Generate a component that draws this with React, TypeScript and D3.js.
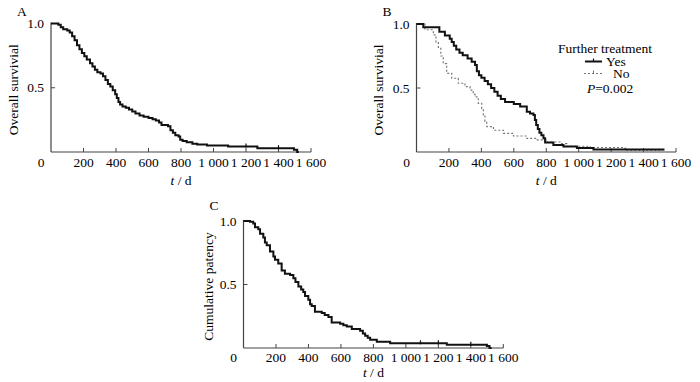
import React from "react";
import * as d3 from "d3";

// ---- data ----
const xTicks = [0, 200, 400, 600, 800, 1000, 1200, 1400, 1600];
const xTickLabels = ["0", "200", "400", "600", "800", "1 000", "1 200", "1 400", "1 600"];
const yTicks = [0.5, 1.0];
const yTickLabels = ["0.5", "1.0"];

// Panel A: overall survival
const survA: [number, number][] = [
  [0, 1.0], [45, 0.99], [60, 0.97], [75, 0.955], [100, 0.945], [115, 0.93], [130, 0.9],
  [145, 0.87], [160, 0.83], [175, 0.8], [190, 0.77], [205, 0.745], [220, 0.72], [240, 0.69],
  [255, 0.665], [270, 0.64], [285, 0.62], [305, 0.61], [320, 0.59], [335, 0.56], [350, 0.53],
  [365, 0.51], [380, 0.48], [395, 0.45], [405, 0.42], [415, 0.39], [425, 0.37], [440, 0.355],
  [460, 0.345], [480, 0.33], [500, 0.315], [520, 0.3], [545, 0.285], [570, 0.275], [600, 0.265],
  [625, 0.255], [645, 0.245], [665, 0.23], [680, 0.21], [720, 0.2], [735, 0.17], [750, 0.15],
  [765, 0.13], [785, 0.12], [795, 0.095], [810, 0.085], [835, 0.075], [870, 0.065], [900, 0.058],
  [960, 0.05], [1090, 0.042], [1270, 0.03], [1495, 0.018], [1515, 0.0], [1525, 0.0],
];
const censorA = [1200, 1400];

// Panel B: further treatment Yes / No
const survBYes: [number, number][] = [
  [0, 1.0], [42, 0.975], [141, 0.94], [175, 0.91], [205, 0.885], [217, 0.86], [230, 0.83],
  [245, 0.8], [265, 0.775], [285, 0.755], [315, 0.73], [340, 0.705], [361, 0.68], [372, 0.63],
  [385, 0.6], [400, 0.58], [420, 0.555], [440, 0.53], [460, 0.5], [480, 0.47], [500, 0.44],
  [520, 0.415], [546, 0.39], [600, 0.375], [639, 0.355], [680, 0.315], [700, 0.3], [721, 0.29],
  [730, 0.25], [738, 0.21], [748, 0.18], [758, 0.15], [770, 0.13], [783, 0.107], [793, 0.075],
  [844, 0.055], [906, 0.042], [989, 0.032], [1091, 0.02], [1523, 0.012],
];
const survBNo: [number, number][] = [
  [0, 1.0], [52, 0.955], [104, 0.915], [120, 0.86], [135, 0.81], [150, 0.75], [165, 0.69],
  [186, 0.615], [217, 0.576], [258, 0.537], [299, 0.51], [330, 0.484], [350, 0.45], [361, 0.43],
  [381, 0.38], [402, 0.34], [412, 0.29], [422, 0.24], [433, 0.198], [474, 0.17], [536, 0.146],
  [598, 0.125], [680, 0.107], [740, 0.095], [803, 0.078], [886, 0.066], [927, 0.045],
  [1071, 0.035], [1276, 0.029], [1290, 0.014], [1520, 0.012],
];

// Panel C: cumulative patency
const patencyC: [number, number][] = [
  [0, 1.0], [40, 0.995], [60, 0.98], [71, 0.95], [91, 0.935], [102, 0.9], [122, 0.87],
  [132, 0.83], [143, 0.81], [163, 0.76], [184, 0.72], [194, 0.695], [214, 0.665], [235, 0.61],
  [255, 0.585], [287, 0.575], [307, 0.55], [320, 0.52], [338, 0.485], [355, 0.46], [368, 0.44],
  [379, 0.41], [399, 0.38], [410, 0.345], [420, 0.33], [440, 0.285], [482, 0.275], [500, 0.26],
  [523, 0.245], [543, 0.2], [595, 0.19], [615, 0.18], [636, 0.17], [667, 0.15], [718, 0.135],
  [735, 0.115], [749, 0.096], [765, 0.08], [780, 0.065], [821, 0.05], [903, 0.037],
  [1252, 0.026], [1499, 0.016], [1515, 0.0], [1528, 0.0],
];
const censorC = [1090, 1200, 1400];

const FONT = "'Liberation Serif', 'Times New Roman', serif";

type PanelProps = {
  letter: string;
  x0: number; x1: number; y0: number; y1: number;
  yTitle: string;
  yTitleX: number;
  labelDy: number;
  titleDy: number;
  letterDy: number;
  children?: (x: d3.ScaleLinear<number, number>, y: d3.ScaleLinear<number, number>) => React.ReactNode;
};

function Panel({ letter, x0, x1, y0, y1, yTitle, yTitleX, labelDy, titleDy, letterDy, children }: PanelProps) {
  const x = d3.scaleLinear().domain([0, 1600]).range([x0, x1]);
  const y = d3.scaleLinear().domain([0, 1]).range([y0, y1]);
  const axisColor = "#444";
  return (
    <g fontFamily={FONT} fontSize={13.5} fill="#000">
      <text x={x0 - 34} y={y1 - letterDy}>{letter}</text>
      {/* axes */}
      <line x1={x0} x2={x0} y1={y(1) - 1} y2={y0} stroke={axisColor} strokeWidth={1.2} />
      <line x1={x0} x2={x1} y1={y0} y2={y0} stroke={axisColor} strokeWidth={1.2} />
      {xTicks.map((t, i) => (
        <g key={"xt" + i}>
          {t > 0 && <line x1={x(t)} x2={x(t)} y1={y0} y2={y0 - 4} stroke={axisColor} strokeWidth={1} />}
          <text x={t === 0 ? x0 - 10 : x(t)} y={y0 + labelDy} textAnchor="middle">{xTickLabels[i]}</text>
        </g>
      ))}
      {yTicks.map((t, i) => (
        <g key={"yt" + i}>
          <line x1={x0} x2={x0 + 4} y1={y(t)} y2={y(t)} stroke={axisColor} strokeWidth={1} />
          <text x={x0 - 7} y={y(t)} textAnchor="end" dominantBaseline="central">{yTickLabels[i]}</text>
        </g>
      ))}
      <text x={(x0 + x1) / 2} y={y0 + titleDy} textAnchor="middle">
        <tspan fontStyle="italic">t</tspan> / d
      </text>
      <text
        transform={`translate(${yTitleX},${(y0 + y1) / 2 + 2}) rotate(-90)`}
        textAnchor="middle"
        dominantBaseline="central"
      >
        {yTitle}
      </text>
      {children && children(x, y)}
    </g>
  );
}

function Curve({ data, x, y, stroke, width, dash, censor }: {
  data: [number, number][];
  x: d3.ScaleLinear<number, number>;
  y: d3.ScaleLinear<number, number>;
  stroke: string; width: number; dash?: string; censor?: number[];
}) {
  const line = d3.line<[number, number]>().x(d => x(d[0])).y(d => y(d[1])).curve(d3.curveStepAfter);
  const valueAt = (t: number) => {
    let v = data[0][1];
    for (const d of data) if (d[0] <= t) v = d[1];
    return v;
  };
  return (
    <g>
      <path d={line(data) || ""} fill="none" stroke={stroke} strokeWidth={width} strokeDasharray={dash} />
      {(censor || []).map((c, i) => (
        <line key={i} x1={x(c)} x2={x(c)} y1={y(valueAt(c)) - 3} y2={y(valueAt(c)) + 1} stroke={stroke} strokeWidth={1.2} />
      ))}
    </g>
  );
}

export default function App() {
  return (
    <svg width={700} height={382} style={{ position: "absolute", left: 0, top: 0, background: "#fff" }}>
      <rect width={700} height={382} fill="#fff" />
      <Panel letter="A" x0={51} x1={311} y0={152} y1={23.5} yTitle="Overall survivial" yTitleX={13}
        labelDy={15} titleDy={33} letterDy={8}>
        {(x, y) => <Curve data={survA} x={x} y={y} stroke="#111" width={2} censor={censorA} />}
      </Panel>
      <Panel letter="B" x0={416.5} x1={676} y0={152} y1={24} yTitle="Overall survivial" yTitleX={378}
        labelDy={15} titleDy={33} letterDy={8}>
        {(x, y) => (
          <g>
            <Curve data={survBNo} x={x} y={y} stroke="#777" width={1.2} dash="2,2" />
            <Curve data={survBYes} x={x} y={y} stroke="#111" width={2} />
          </g>
        )}
      </Panel>
      <Panel letter="C" x0={243.5} x1={503.3} y0={348} y1={221} yTitle="Cumulative patency" yTitleX={208}
        labelDy={14} titleDy={29} letterDy={11}>
        {(x, y) => <Curve data={patencyC} x={x} y={y} stroke="#111" width={2} censor={censorC} />}
      </Panel>
      {/* legend for B */}
      <g fontFamily={FONT} fontSize={13.5} fill="#000">
        <text x={558} y={53}>Further treatment</text>
        <line x1={585} x2={602} y1={61.5} y2={61.5} stroke="#111" strokeWidth={2} />
        <line x1={593.5} x2={593.5} y1={58.5} y2={61.5} stroke="#111" strokeWidth={1.2} />
        <text x={606} y={66}>Yes</text>
        <line x1={584} x2={602} y1={73.5} y2={73.5} stroke="#777" strokeWidth={1.2} strokeDasharray="2,2" />
        <line x1={593.5} x2={593.5} y1={70.5} y2={73.5} stroke="#777" strokeWidth={1} />
        <text x={613} y={78}>No</text>
        <text x={587} y={93}><tspan fontStyle="italic">P</tspan>=0.002</text>
      </g>
    </svg>
  );
}
